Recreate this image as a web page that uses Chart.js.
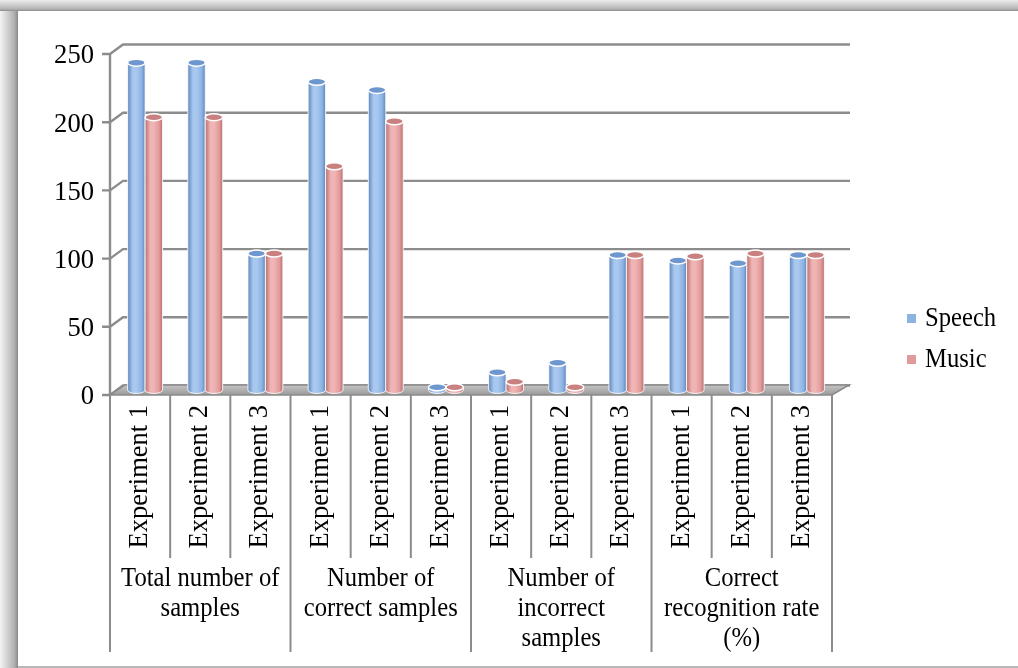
<!DOCTYPE html>
<html>
<head>
<meta charset="utf-8">
<script src="https://cdn.jsdelivr.net/npm/chart.js@4.4.1/dist/chart.umd.min.js"></script>
<style>
html,body{margin:0;padding:0;background:#fff;overflow:hidden;}
canvas{display:block;}
</style>
</head>
<body>
<canvas id="c" width="1018" height="668"></canvas>
<script>
const categories = ["Experiment 1","Experiment 2","Experiment 3","Experiment 1","Experiment 2","Experiment 3","Experiment 1","Experiment 2","Experiment 3","Experiment 1","Experiment 2","Experiment 3"];
const groups = [["Total number of","samples"],["Number of","correct samples"],["Number of","incorrect","samples"],["Correct","recognition rate","(%)"]];
const speech = [240, 240, 100, 226, 220, 2, 13, 20, 99, 95, 93, 99];
const music  = [200, 200, 100, 164, 197, 2, 6, 2, 99, 98, 100, 99];
const yTicks = [0, 50, 100, 150, 200, 250];
const seriesNames = ["Speech", "Music"];

const FONT = "'Liberation Serif', 'Times New Roman', serif";
const SX = 0.88;
const palette = [
  {base:'#8DB3E2', light:'#A9C8F0', dark:'#5F86BE', top:'#6F97CF'},
  {base:'#E19B9B', light:'#F0B4B4', dark:'#B86E6E', top:'#C98080'}
];

function txt(ctx, t, x, y, sx){
  ctx.save(); ctx.translate(x, y); ctx.scale(sx, 1); ctx.fillText(t, 0, 0); ctx.restore();
}

const deco = {
  id:'deco',
  beforeDraw(chart){
    const ctx = chart.ctx, W = chart.width, H = chart.height;
    const y = chart.scales.y, x = chart.scales.x;
    ctx.save();
    ctx.fillStyle = '#fff'; ctx.fillRect(0,0,W,H);
    // frame shadows
    let g = ctx.createLinearGradient(0,0,0,11);
    g.addColorStop(0,'#ececec'); g.addColorStop(0.8,'#b4b4b4'); g.addColorStop(1,'#8e8e8e');
    ctx.fillStyle = g; ctx.fillRect(0,0,W,11);
    g = ctx.createLinearGradient(0,0,18,0);
    g.addColorStop(0,'#f4f4f4'); g.addColorStop(0.8,'#b0b0b0'); g.addColorStop(1,'#8a8a8a');
    ctx.fillStyle = g; ctx.fillRect(0,11,18,H-11);
    ctx.fillStyle = '#b8b8b8'; ctx.fillRect(18,H-2,W-18,2);

    const frontX = chart.chartArea.left - 5;
    const backX = chart.chartArea.left + 8;
    const backRight = 850;
    // back wall gridlines + diagonals
    ctx.strokeStyle = '#8c8c8c'; ctx.lineWidth = 2.4;
    yTicks.forEach(v => {
      const py = y.getPixelForValue(v);
      const fy = py + 5, by = py - 4.5;
      ctx.beginPath();
      ctx.moveTo(frontX - 8, fy); ctx.lineTo(frontX, fy);
      ctx.lineTo(backX, by); ctx.lineTo(backRight, by);
      ctx.stroke();
    });
    // y axis front line
    ctx.beginPath();
    ctx.moveTo(frontX, y.getPixelForValue(250)+5);
    ctx.lineTo(frontX, y.getPixelForValue(0)+5);
    ctx.stroke();
    // floor
    const fy0 = y.getPixelForValue(0)+5, by0 = y.getPixelForValue(0)-5;
    const frontRight = chart.chartArea.right - 5;
    g = ctx.createLinearGradient(0,by0,0,fy0);
    g.addColorStop(0,'#c4c4c4'); g.addColorStop(1,'#9a9a9a');
    ctx.fillStyle = g;
    ctx.beginPath();
    ctx.moveTo(frontX, fy0); ctx.lineTo(frontRight, fy0);
    ctx.lineTo(frontRight+17, by0); ctx.lineTo(frontX+15, by0);
    ctx.closePath(); ctx.fill();
    ctx.strokeStyle = '#8a8a8a'; ctx.lineWidth = 1.5; ctx.stroke();

    // y tick labels
    ctx.fillStyle = '#000';
    ctx.font = '28px ' + FONT;
    ctx.textAlign = 'right'; ctx.textBaseline = 'middle';
    yTicks.forEach(v => {
      txt(ctx, String(v), frontX - 16, y.getPixelForValue(v)+7, 0.95);
    });

    // category separators
    const step = x.getPixelForValue(1) - x.getPixelForValue(0);
    ctx.strokeStyle = '#8c8c8c'; ctx.lineWidth = 2;
    for (let i = 0; i <= categories.length; i++) {
      const px = x.getPixelForValue(0) - step/2 - 5 + i*step;
      ctx.beginPath();
      ctx.moveTo(px, fy0);
      ctx.lineTo(px, i % 3 === 0 ? 652 : 558);
      ctx.stroke();
    }
    // category labels (vertical)
    ctx.fillStyle = '#000';
    ctx.font = '26.5px ' + FONT;
    categories.forEach((c, i) => {
      const px = x.getPixelForValue(i) - 5;
      ctx.save();
      ctx.translate(px, 405);
      ctx.rotate(-Math.PI/2);
      ctx.textAlign = 'right'; ctx.textBaseline = 'middle';
      ctx.fillText(c, 0, 0);
      ctx.restore();
    });
    // group labels
    ctx.font = '28px ' + FONT;
    ctx.textAlign = 'center'; ctx.textBaseline = 'middle';
    groups.forEach((lines, gi) => {
      const cx = (x.getPixelForValue(gi*3) + x.getPixelForValue(gi*3+2))/2 - 5;
      lines.forEach((t, li) => txt(ctx, t, cx, 579 + li*30, SX));
    });
    // legend
    ctx.textAlign = 'left';
    seriesNames.forEach((n, i) => {
      const ly = 319 + i*41;
      ctx.fillStyle = palette[i].base;
      ctx.fillRect(907, ly-5, 9, 9);
      ctx.fillStyle = '#000';
      txt(ctx, n, 925, ly, SX);
    });
    ctx.restore();
  },
  afterDatasetsDraw(chart){
    const ctx = chart.ctx;
    ctx.save();
    chart.data.datasets.forEach((ds, di) => {
      const meta = chart.getDatasetMeta(di);
      const p = palette[di];
      meta.data.forEach(el => {
        const w = el.width, l = el.x - w/2, r = el.x + w/2;
        const top = el.y, base = el.base, ry = Math.min(4, w/5);
        const g = ctx.createLinearGradient(l,0,r,0);
        g.addColorStop(0, p.dark); g.addColorStop(0.3, p.light);
        g.addColorStop(0.5, p.light); g.addColorStop(0.8, p.base); g.addColorStop(1, p.dark);
        ctx.fillStyle = g;
        ctx.beginPath();
        ctx.moveTo(l, top);
        ctx.lineTo(l, base);
        ctx.ellipse(el.x, base, w/2, ry, 0, Math.PI, 0, true);
        ctx.lineTo(r, top);
        ctx.closePath();
        ctx.fill();
        ctx.strokeStyle = 'rgba(255,255,255,0.85)'; ctx.lineWidth = 1;
        ctx.stroke();
        ctx.beginPath();
        ctx.ellipse(el.x, top, w/2, ry, 0, 0, Math.PI*2);
        ctx.fillStyle = p.top; ctx.fill();
        ctx.strokeStyle = '#ffffff'; ctx.lineWidth = 1.5; ctx.stroke();
      });
    });
    ctx.restore();
  }
};

new Chart(document.getElementById('c'), {
  type: 'bar',
  data: {
    labels: categories,
    datasets: [
      {label: seriesNames[0], data: speech, backgroundColor: 'rgba(0,0,0,0)', borderWidth: 0},
      {label: seriesNames[1], data: music, backgroundColor: 'rgba(0,0,0,0)', borderWidth: 0}
    ]
  },
  options: {
    responsive: false,
    animation: false,
    layout: {padding: {left: 115, right: 181, top: 49, bottom: 278}},
    plugins: {legend: {display: false}, tooltip: {enabled: false}},
    datasets: {bar: {categoryPercentage: 0.58, barPercentage: 1.0}},
    scales: {
      x: {display: false, offset: true},
      y: {display: false, min: 0, max: 250}
    }
  },
  plugins: [deco]
});
</script>
</body>
</html>
